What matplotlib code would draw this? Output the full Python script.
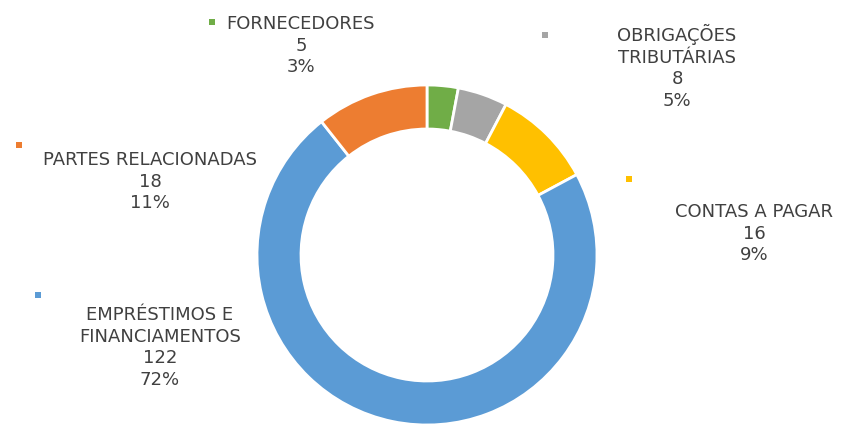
import matplotlib.pyplot as plt

# dados do grafico (sentido horario a partir do topo)
categorias = ["FORNECEDORES", "OBRIGAÇÕES\nTRIBUTÁRIAS", "CONTAS A PAGAR",
              "EMPRÉSTIMOS E\nFINANCIAMENTOS", "PARTES RELACIONADAS"]
valores = [5, 8, 16, 122, 18]
cores = ["#70AD47", "#A5A5A5", "#FFC000", "#5B9BD5", "#ED7D31"]

# posicoes dos rotulos em pixels a partir do topo (x centro do texto, y topo) e do marcador
pos_texto = [(301, 15), (677, 24), (754, 203), (160, 306), (150, 151)]
pos_marca = [(212, 22), (545, 35), (629, 179), (38, 295), (19, 145)]

W, H = 842, 424
fig = plt.figure(figsize=(W / 100, H / 100), dpi=100)
ax = fig.add_axes([0, 0, 1, 1])

ax.pie(valores, colors=cores, startangle=90, counterclock=False,
       center=(427, H - 255), radius=170, frame=True,
       wedgeprops=dict(width=44, edgecolor="white", linewidth=2))
ax.set_xlim(0, W)
ax.set_ylim(0, H)
ax.set_aspect("equal")
ax.axis("off")

total = sum(valores)
for cat, v, c, (tx, ty), (mx, my) in zip(categorias, valores, cores, pos_texto, pos_marca):
    pct = round(100 * v / total)
    ax.text(tx, H - ty, f"{cat}\n{v}\n{pct}%", ha="center", va="top",
            fontsize=13, color="#404040", linespacing=1.26, family="DejaVu Sans")
    ax.scatter([mx], [H - my], marker="s", s=24, color=c, edgecolors="none")

fig.savefig("out.png", dpi=100)
